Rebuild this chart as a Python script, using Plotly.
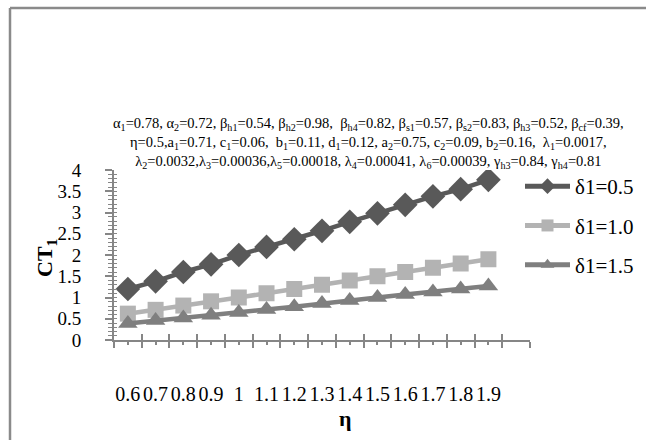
import plotly.graph_objects as go

# eta values on the category axis
eta_labels = ["0.6", "0.7", "0.8", "0.9", "1", "1.1", "1.2", "1.3", "1.4", "1.5",
              "1.6", "1.7", "1.8", "1.9"]
ct1_d05 = [1.2, 1.38, 1.6, 1.78, 2.0, 2.19, 2.37, 2.57, 2.78, 2.98, 3.18, 3.38, 3.55, 3.77]
ct1_d10 = [0.62, 0.71, 0.81, 0.91, 1.0, 1.1, 1.2, 1.3, 1.4, 1.5, 1.6, 1.7, 1.8, 1.9]
ct1_d15 = [0.39, 0.46, 0.52, 0.58, 0.65, 0.72, 0.78, 0.86, 0.93, 1.0, 1.07, 1.13, 1.2, 1.27]
series_names = ["δ1=0.5", "δ1=1.0", "δ1=1.5"]

W, H = 646, 440
L, R, T, B = 114, 116, 170, 100
PW, PH = W - L - R, H - T - B

def px_x(x):
    return (x - L) / PW

def px_y(y):
    return (H - B - y) / PH

SERIF = "Liberation Serif"
AX = "#868686"
n_cat = len(eta_labels) + 1
xpos = list(range(len(eta_labels)))
x_range = [-0.5, n_cat - 0.5]

fig = go.Figure()
styles = [
    (ct1_d05, "#595959", "diamond", 19),
    (ct1_d10, "#b3b3b3", "square", 16),
    (ct1_d15, "#7f7f7f", "triangle-up", 17),
]
for name, (vals, col, sym, sz) in zip(series_names, styles):
    fig.add_trace(go.Scatter(
        x=xpos, y=vals, name=name, mode="lines+markers",
        legendgroup=name,
        line=dict(color=col, width=4.5),
        marker=dict(symbol=sym, size=sz, color=col),
    ))

# empty trace that carries the overlay axes (inner half of the crossing ticks)
fig.add_trace(go.Scatter(x=[], y=[], xaxis="x2", yaxis="y2",
                         showlegend=False, hoverinfo="skip"))

fig.update_layout(
    width=W, height=H,
    margin=dict(l=L, r=R, t=T, b=B, autoexpand=False),
    plot_bgcolor="white", paper_bgcolor="white",
    font=dict(family=SERIF, color="black", size=18),
    showlegend=True,
    legend=dict(x=px_x(520), y=px_y(166), xanchor="left", yanchor="top",
                font=dict(family=SERIF, size=21), tracegroupgap=9,
                itemwidth=45, itemsizing="constant", bgcolor="rgba(0,0,0,0)"),
    xaxis=dict(
        range=x_range, showgrid=False, zeroline=False,
        showline=True, linecolor=AX, linewidth=2,
        tickmode="array", tickvals=xpos, ticktext=eta_labels,
        ticks="outside", ticklen=3, tickcolor=AX, tickwidth=1.5,
        ticklabelstandoff=32,
        tickfont=dict(family=SERIF, size=20),
        minor=dict(tick0=-0.5, dtick=1,
                   ticks="outside", ticklen=6, tickcolor=AX, tickwidth=2),
    ),
    xaxis2=dict(
        overlaying="x", anchor="y2", range=x_range, side="bottom",
        showgrid=False, zeroline=False, showline=False, showticklabels=False,
        tickmode="linear", tick0=-0.5, dtick=1,
        ticks="inside", ticklen=6, tickcolor=AX, tickwidth=2,
    ),
    yaxis=dict(
        range=[0, 4], showgrid=False, zeroline=False,
        showline=True, linecolor=AX, linewidth=2,
        tickmode="linear", tick0=0, dtick=0.5,
        ticks="outside", ticklen=7, tickcolor=AX, tickwidth=2,
        ticklabelstandoff=20,
        tickfont=dict(family=SERIF, size=19),
        minor=dict(dtick=0.1, ticks="outside", ticklen=4, tickcolor=AX, tickwidth=1),
    ),
    yaxis2=dict(
        overlaying="y", anchor="x2", range=[0, 4], side="left",
        showgrid=False, zeroline=False, showline=False, showticklabels=False,
        tickmode="linear", tick0=0, dtick=0.1,
        ticks="inside", ticklen=3, tickcolor=AX, tickwidth=1,
    ),
)

# outer chart border (top and left edges)
fig.add_shape(type="line", xref="paper", yref="paper",
              x0=px_x(10), x1=px_x(700), y0=px_y(8), y1=px_y(8),
              line=dict(color="#8a8a8a", width=2.5))
fig.add_shape(type="line", xref="paper", yref="paper",
              x0=px_x(10), x1=px_x(10), y0=px_y(8), y1=px_y(500),
              line=dict(color="#8a8a8a", width=2.5))

# parameter block above the plot
param_text = "<br>".join([
    "α<sub>1</sub>=0.78, α<sub>2</sub>=0.72, β<sub>h1</sub>=0.54, β<sub>h2</sub>=0.98,  "
    "β<sub>h4</sub>=0.82, β<sub>s1</sub>=0.57, β<sub>s2</sub>=0.83, β<sub>h3</sub>=0.52, "
    "β<sub>cf</sub>=0.39,",
    "η=0.5,a<sub>1</sub>=0.71, c<sub>1</sub>=0.06,  b<sub>1</sub>=0.11, d<sub>1</sub>=0.12, "
    "a<sub>2</sub>=0.75, c<sub>2</sub>=0.09, b<sub>2</sub>=0.16,  λ<sub>1</sub>=0.0017,",
    "λ<sub>2</sub>=0.0032,λ<sub>3</sub>=0.00036,λ<sub>5</sub>=0.00018, λ<sub>4</sub>=0.00041, "
    "λ<sub>6</sub>=0.00039, γ<sub>h3</sub>=0.84, γ<sub>h4</sub>=0.81",
])
fig.add_annotation(text=param_text, xref="paper", yref="paper",
                   x=px_x(368), y=px_y(143), xanchor="center", yanchor="middle",
                   align="center", showarrow=False,
                   font=dict(family=SERIF, size=14.5))

# axis titles
fig.add_annotation(text="<b>CT<sub>1</sub></b>", xref="paper", yref="paper",
                   x=px_x(46), y=px_y(258), xanchor="center", yanchor="middle",
                   textangle=-90, showarrow=False, font=dict(family=SERIF, size=22))
fig.add_annotation(text="<b>η</b>", xref="paper", yref="paper",
                   x=px_x(345), y=px_y(418), xanchor="center", yanchor="middle",
                   showarrow=False, font=dict(family=SERIF, size=22))

fig.write_html("out.html")
